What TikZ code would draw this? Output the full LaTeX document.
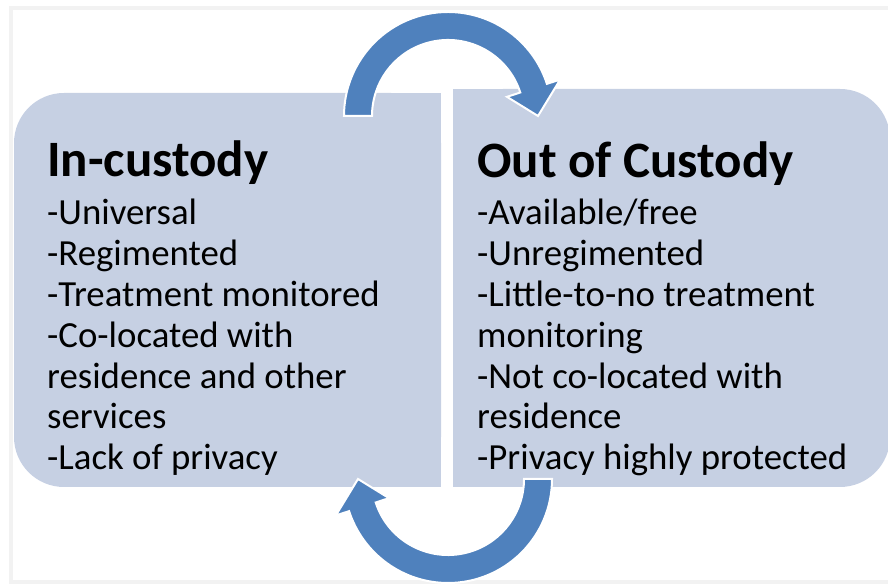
\documentclass[tikz,border=0pt]{standalone}
\usepackage{fontspec}
\setmainfont{Carlito}
\usepackage{tikz}
\usetikzlibrary{positioning}
\definecolor{cBox}{HTML}{C6D0E3}
\definecolor{cArrow}{HTML}{4F81BD}
\definecolor{cFrame}{HTML}{F2F2F2}
\tikzset{
  sidebox/.style={
    fill=cBox, draw=none, rounded corners=50pt,
    minimum width=#1, inner sep=0pt,
  },
  heading/.style={
    font=\fontsize{51}{56}\selectfont\bfseries, anchor=base west, inner sep=0pt,
  },
  item/.style={
    font=\fontsize{36.8}{40}\selectfont, anchor=base west, inner sep=0pt,
  },
  cyclearrow/.style={fill=cArrow, draw=white, line width=2pt, line join=miter},
}

\begin{document}
\begin{tikzpicture}[x=1pt, y=1pt]
  \useasboundingbox (0,0) rectangle (888,585);
  \clip (0,0) rectangle (888,585);

  % thin slide frame
  \draw[cFrame, line width=4pt] (10.5,3) rectangle (900,576.5);

  % Left box -- in custody (square edge towards the middle)
  \node[sidebox=427pt, minimum height=394pt] (incust) at (227.5,295) {};
  \fill[cBox] (incust.north) rectangle (incust.south east);

  % Right box -- out of custody
  \node[sidebox=437pt, minimum height=398pt] (outcust) at (671.5,297) {};
  \fill[cBox] (outcust.north west) rectangle (outcust.south);

  % Headings
  \node[heading] (incHead) at (47,408) {In-custody};
  \node[heading] (outHead) at (477,407) {Out of Custody};

  % Bullet lines
  \foreach \t [count=\i] in {-Universal, -Regimented, -Treatment monitored,
      -Co-located with, residence and other, services, -Lack of privacy}
    \node[item] (inc-\i) at (47,{360-40.8*(\i-1)}) {\t};
  \foreach \t [count=\i] in {-Available/free, -Unregimented, -Little-to-no treatment,
      monitoring, -Not co-located with, residence, -Privacy highly protected}
    \node[item] (out-\i) at (477,{360-40.8*(\i-1)}) {\t};

  % Circular arrows between the two boxes
  \coordinate (topc) at (448,469);
  \coordinate (botc) at (448,106);

  \filldraw[cyclearrow]
    ([shift={(180:104)}]topc) arc[start angle=180, end angle=18, radius=104]
    -- ([shift={(18:118)}]topc) -- ([shift={(0:90)}]topc)
    -- ([shift={(18:62)}]topc) -- ([shift={(18:76)}]topc)
    arc[start angle=18, end angle=180, radius=76] -- cycle;

  \filldraw[cyclearrow]
    ([shift={(0:104)}]botc) arc[start angle=0, end angle=-162, radius=104]
    -- ([shift={(-162:118)}]botc) -- ([shift={(-180:90)}]botc)
    -- ([shift={(-162:62)}]botc) -- ([shift={(-162:76)}]botc)
    arc[start angle=-162, end angle=0, radius=76] -- cycle;

\end{tikzpicture}
\end{document}
